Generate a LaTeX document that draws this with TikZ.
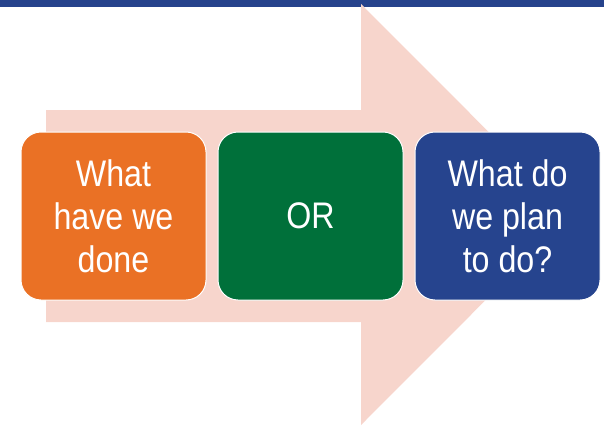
\documentclass[tikz,border=0pt]{standalone}
\usepackage{fontspec}
\setmainfont[FakeStretch=0.87]{Liberation Sans}
\usetikzlibrary{positioning}
\definecolor{barblue}{HTML}{26438C}
\definecolor{arrowpink}{HTML}{F7D5CC}
\definecolor{doneorange}{HTML}{EA7125}
\definecolor{orgreen}{HTML}{00703A}
\definecolor{planblue}{HTML}{26448E}
\tikzset{
  stagebox/.style={rectangle, rounded corners=20pt, draw=white, line width=1pt,
    minimum width=185pt, minimum height=168pt, text=white, align=center,
    font=\fontsize{37}{43}\selectfont, inner sep=0pt},
}

\begin{document}
\begin{tikzpicture}[x=1pt,y=-1pt, node distance=11pt]
  \useasboundingbox (0,0) rectangle (604,425);
  % top bar
  \fill[barblue] (0,0) rectangle (604,7);
  % big arrow behind the boxes
  \fill[arrowpink] (46,110) -- (361,110) -- (361,4) -- (571,214.5)
    -- (361,425) -- (361,322) -- (46,322) -- cycle;

  \node[stagebox, fill=doneorange] (done) at (113.5,216) {What\\have we\\done};
  \node[stagebox, fill=orgreen, right=of done] (or) {OR};
  \node[stagebox, fill=planblue, right=of or] (plan) {What do\\we plan\\to do?};
\end{tikzpicture}
\end{document}
